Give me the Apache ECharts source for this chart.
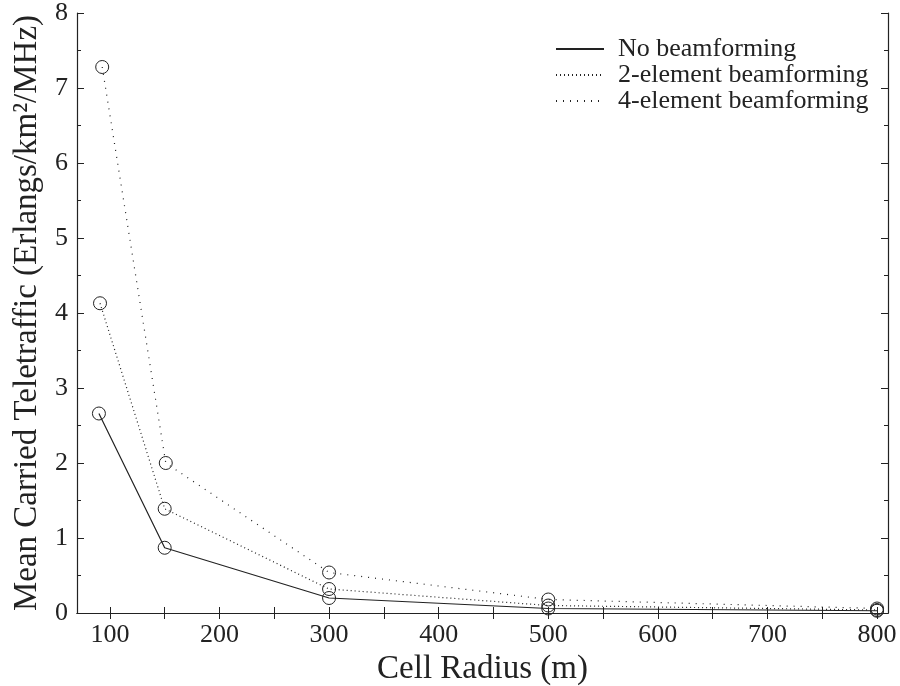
<!DOCTYPE html>
<html>
<head>
<meta charset="utf-8">
<script src="https://cdn.jsdelivr.net/npm/echarts@6/dist/echarts.min.js"></script>
<style>
  html, body { margin: 0; padding: 0; background: #fff; }
  #chart { width: 900px; height: 686px; }
</style>
</head>
<body>
<div id="chart"></div>
<script>
// cell radius (m) for each curve
var radiusNo = [90, 150, 300, 500, 800];
var radius2 = [91, 150, 300, 500, 800];
var radius4 = [93, 151, 300, 500, 800];
// mean carried teletraffic (Erlangs/km^2/MHz)
var trafficNo = [2.66, 0.87, 0.20, 0.06, 0.03];
var traffic2 = [4.13, 1.39, 0.32, 0.10, 0.04];
var traffic4 = [7.28, 2.00, 0.54, 0.18, 0.06];
var seriesNames = ['No beamforming', '2-element beamforming', '4-element beamforming'];
var xLabels = [100, 200, 300, 400, 500, 600, 700, 800];
var xTicks = [100, 150, 200, 250, 300, 350, 400, 450, 500, 550, 600, 650, 700, 750, 800];

var fontFam = 'Liberation Serif';

function pairs(xs, ys) {
    var out = [];
    xs.forEach(function (v, i) {
        out.push([v, ys[i]]);
    });
    return out;
}

function makeSeries(name, xs, ys, dash) {
    return {
        name: name,
        type: 'line',
        data: pairs(xs, ys),
        symbol: 'circle',
        symbolSize: 13,
        itemStyle: { color: 'rgba(0,0,0,0)', borderColor: '#222', borderWidth: 1 },
        lineStyle: { color: '#222', width: 1.2, type: dash },
        z: 3
    };
}

var axisLine = { show: true, lineStyle: { color: '#222', width: 1.2 } };
var yTick = { show: true, inside: true, length: 7, lineStyle: { color: '#222' } };
var yMinor = { show: true, splitNumber: 2, length: 4, lineStyle: { color: '#222' } };
var xTick = { show: true, inside: true, length: 6, lineStyle: { color: '#222' }, customValues: xTicks };

var myChart = echarts.init(document.getElementById('chart'));
myChart.setOption({
    animation: false,
    backgroundColor: '#fff',
    textStyle: { fontFamily: fontFam },
    grid: { left: 77, right: 12, top: 13, bottom: 73, outerBoundsMode: 'none', containLabel: false },
    legend: {
        data: seriesNames,
        orient: 'vertical',
        left: 550,
        top: 31,
        itemWidth: 48,
        itemHeight: 14,
        itemGap: 0,
        itemStyle: { opacity: 0 },
        textStyle: { fontFamily: fontFam, fontSize: 26, color: '#222', padding: [0, 0, 0, 9] }
    },
    xAxis: [
        {
            type: 'value', min: 70, max: 810,
            position: 'bottom',
            name: 'Cell Radius (m)',
            nameLocation: 'middle',
            nameGap: 38,
            nameTextStyle: { fontFamily: fontFam, fontSize: 33, color: '#222' },
            axisLine: axisLine,
            axisLabel: { fontFamily: fontFam, fontSize: 26, color: '#222', margin: 9, customValues: xLabels },
            axisTick: xTick,
            splitLine: { show: false }
        },
        {
            type: 'value', min: 70, max: 810, position: 'top',
            axisLine: axisLine,
            axisLabel: { show: false },
            axisTick: xTick,
            splitLine: { show: false }
        }
    ],
    yAxis: [
        {
            type: 'value', min: 0, max: 8, interval: 1,
            position: 'left',
            name: 'Mean Carried Teletraffic (Erlangs/km\u00b2/MHz)',
            nameLocation: 'middle',
            nameGap: 30,
            nameTextStyle: { fontFamily: fontFam, fontSize: 33, color: '#222' },
            axisLine: axisLine,
            axisLabel: { fontFamily: fontFam, fontSize: 26, color: '#222', margin: 9 },
            axisTick: yTick,
            minorTick: yMinor,
            splitLine: { show: false }
        },
        {
            type: 'value', min: 0, max: 8, interval: 1,
            position: 'right',
            axisLine: axisLine,
            axisLabel: { show: false },
            axisTick: yTick,
            minorTick: yMinor,
            splitLine: { show: false }
        }
    ],
    series: [
        makeSeries(seriesNames[0], radiusNo, trafficNo, 'solid'),
        makeSeries(seriesNames[1], radius2, traffic2, [1, 3]),
        makeSeries(seriesNames[2], radius4, traffic4, [1, 6])
    ]
});
</script>
</body>
</html>
